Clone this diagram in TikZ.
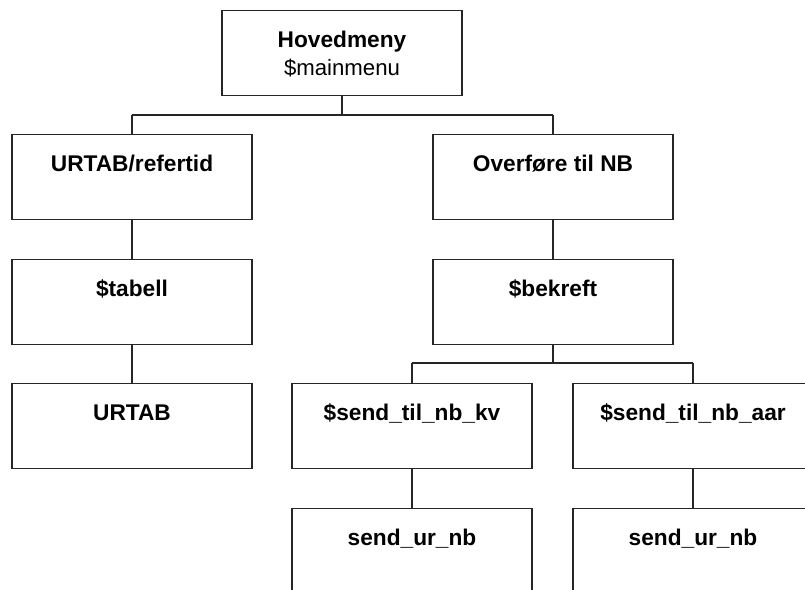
\documentclass[tikz,border=0pt]{standalone}
\usepackage{fontspec}
\setmainfont{Liberation Sans}
\begin{document}
\begin{tikzpicture}[x=1pt,y=-1pt,
  box/.style={draw=black!85,line width=1.1pt,fill=white,rectangle,
    minimum width=240pt,minimum height=85pt,inner sep=0pt,anchor=north},
  lbl/.style={anchor=base,inner sep=0pt,font=\fontsize{22.7}{27}\selectfont\bfseries},
  sub/.style={anchor=base,inner sep=0pt,font=\fontsize{22.2}{27}\selectfont},
  link/.style={draw=black!85,line width=1.1pt}]
\useasboundingbox (0,0) rectangle (805,589);
\clip (0,0) rectangle (805,589);

% junction points of the tree connectors
\coordinate (j0) at (342,115);
\coordinate (jL) at (132,115);
\coordinate (jR) at (553,115);
\coordinate (j1) at (553,363);
\coordinate (j1L) at (412,363);
\coordinate (j1R) at (693,363);

% boxes
\node[box] (main) at (342,10) {};
\node[box] (refer) at (132,134) {};
\node[box] (tabell) at (132,259) {};
\node[box] (urtab) at (132,383) {};
\node[box] (over) at (553,134) {};
\node[box] (bekreft) at (553,259) {};
\node[box] (kv) at (412,383) {};
\node[box] (aar) at (693,383) {};
\node[box] (urnb1) at (412,508) {};
\node[box] (urnb2) at (693,508) {};

% connectors
\draw[link] (main.south) -- (j0);
\draw[link] (jL) -- (jR);
\draw[link] (jL) -- (refer.north);
\draw[link] (jR) -- (over.north);
\draw[link] (refer.south) -- (tabell.north);
\draw[link] (tabell.south) -- (urtab.north);
\draw[link] (over.south) -- (bekreft.north);
\draw[link] (bekreft.south) -- (j1);
\draw[link] (j1L) -- (j1R);
\draw[link] (j1L) -- (kv.north);
\draw[link] (j1R) -- (aar.north);
\draw[link] (kv.south) -- (urnb1.north);
\draw[link] (aar.south) -- (urnb2.north);

% labels
\node[lbl] (mainT) at ([yshift=-37pt]main.north) {Hovedmeny};
\node[sub] (mainS) at ([yshift=-65pt]main.north) {\$mainmenu};
\node[lbl] (referT) at ([yshift=-37pt]refer.north) {URTAB/refertid};
\node[lbl] (tabellT) at ([yshift=-37pt]tabell.north) {\$tabell};
\node[lbl] (urtabT) at ([yshift=-37pt]urtab.north) {URTAB};
\node[lbl] (overT) at ([yshift=-37pt]over.north) {Overføre til NB};
\node[lbl] (bekreftT) at ([yshift=-37pt]bekreft.north) {\$bekreft};
\node[lbl] (kvT) at ([yshift=-37pt]kv.north) {\$send\_til\_nb\_kv};
\node[lbl] (aarT) at ([yshift=-37pt]aar.north) {\$send\_til\_nb\_aar};
\node[lbl] (urnb1T) at ([yshift=-37pt]urnb1.north) {send\_ur\_nb};
\node[lbl] (urnb2T) at ([yshift=-37pt]urnb2.north) {send\_ur\_nb};
\end{tikzpicture}
\end{document}
